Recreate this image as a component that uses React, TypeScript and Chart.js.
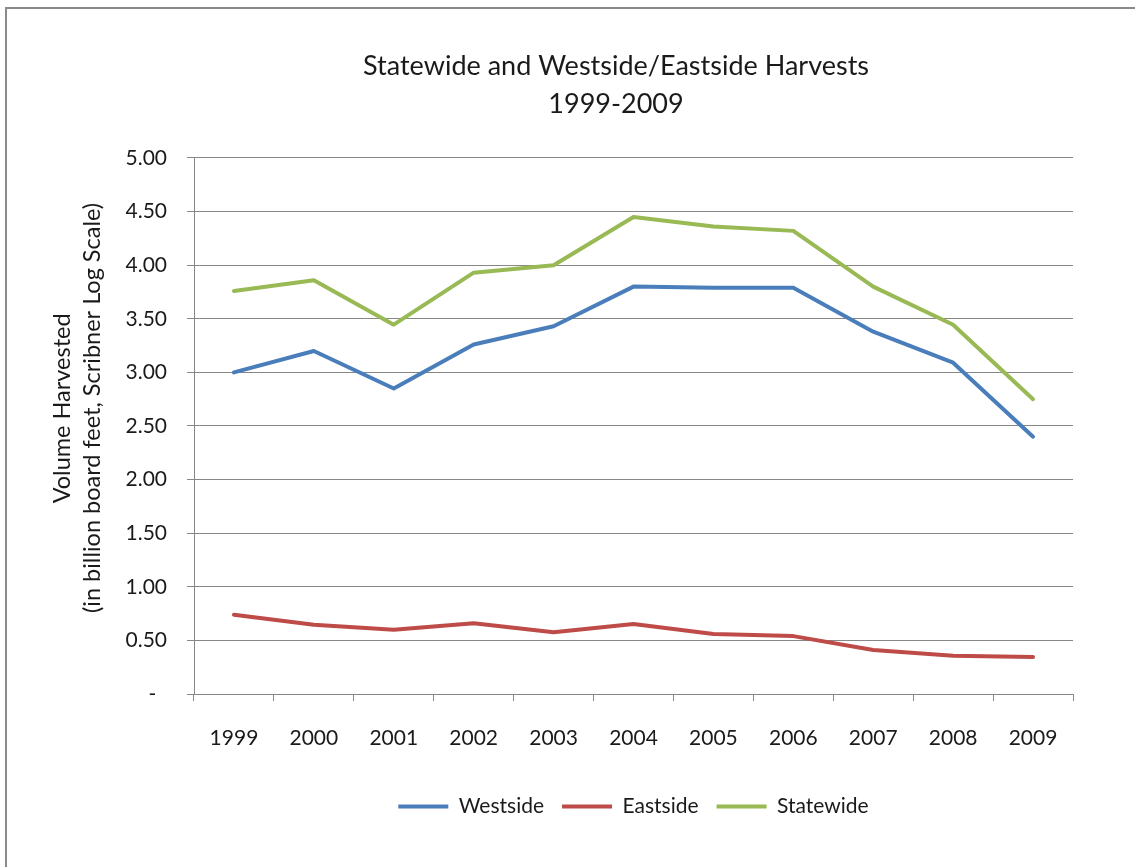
import { useEffect, useRef } from "react";
import { Chart, registerables } from "chart.js";

Chart.register(...registerables);

// Harvest volumes, billion board feet (Scribner log scale)
const years = ["1999", "2000", "2001", "2002", "2003", "2004", "2005", "2006", "2007", "2008", "2009"];
const westside = [3.0, 3.2, 2.85, 3.26, 3.43, 3.8, 3.79, 3.79, 3.38, 3.09, 2.4];
const eastside = [0.74, 0.645, 0.6, 0.66, 0.576, 0.652, 0.56, 0.54, 0.41, 0.357, 0.345];
const statewide = [3.76, 3.86, 3.445, 3.93, 4.0, 4.45, 4.36, 4.32, 3.8, 3.445, 2.75];

const titleLines = ["Statewide and Westside/Eastside Harvests", "1999-2009"];
const yTitleLines = ["Volume Harvested", "(in billion board feet, Scribner Log Scale)"];
const yTicks = { min: 0, max: 5, step: 0.5 };

const FONT = "Lato, 'Open Sans', sans-serif";
const GRID = "#878787";
const TEXT = "#1a1a1a";

// The title is centred over the whole chart box, the legend under the plot,
// and the y-axis title sits a little above the middle of the axis.
const blockPlacement = {
  id: "blockPlacement",
  afterLayout(chart: any) {
    const move = (box: any, center: number) => {
      if (!box) return;
      const dx = center - (box.left + box.right) / 2;
      box.left += dx;
      box.right += dx;
    };
    move(chart.titleBlock, chart.width / 2);
    move(chart.legend, (chart.chartArea.left + chart.chartArea.right) / 2);
  },
};

const lift = "\u00A0".repeat(6);

export default function App() {
  const canvasRef = useRef<HTMLCanvasElement | null>(null);

  useEffect(() => {
    const canvas = canvasRef.current;
    if (!canvas) return;
    const chart = new Chart(canvas, {
      type: "line",
      data: {
        labels: years,
        datasets: [
          { label: "Westside", data: westside, borderColor: "#4A7EBB", backgroundColor: "#4A7EBB" },
          { label: "Eastside", data: eastside, borderColor: "#BE4B48", backgroundColor: "#BE4B48" },
          { label: "Statewide", data: statewide, borderColor: "#98B954", backgroundColor: "#98B954" },
        ].map((d) => ({
          ...d,
          borderWidth: 4,
          pointRadius: 0,
          pointHoverRadius: 0,
          tension: 0,
          borderCapStyle: "round" as const,
          borderJoinStyle: "round" as const,
          fill: false,
        })),
      },
      options: {
        responsive: false,
        devicePixelRatio: 1,
        animation: false,
        events: [],
        layout: { padding: { top: 0, left: 0, right: 151, bottom: 52 } },
        plugins: {
          tooltip: { enabled: false },
          title: {
            display: true,
            text: titleLines,
            color: TEXT,
            font: { family: FONT, size: 27, weight: "normal", lineHeight: 1.407 },
            padding: { top: 38, bottom: 35 },
          },
          legend: {
            display: true,
            position: "bottom",
            labels: {
              usePointStyle: true,
              pointStyle: "line",
              pointStyleWidth: 50,
              color: TEXT,
              padding: 18,
              font: { family: FONT, size: 21 },
            },
          },
        },
        scales: {
          x: {
            type: "category",
            offset: true,
            grid: {
              display: true,
              drawOnChartArea: false,
              drawTicks: true,
              tickLength: 7,
              offset: true,
              color: GRID,
            },
            border: { display: true, color: GRID, width: 1 },
            ticks: {
              color: TEXT,
              padding: 25,
              maxRotation: 0,
              autoSkip: false,
              font: { family: FONT, size: 21 },
            },
            afterFit(scale: any) {
              scale.height = 84;
            },
          },
          y: {
            type: "linear",
            min: yTicks.min,
            max: yTicks.max,
            grid: { color: GRID, lineWidth: 1, tickLength: 7, drawTicks: true },
            border: { display: true, color: GRID, width: 1 },
            ticks: {
              stepSize: yTicks.step,
              color: TEXT,
              padding: 20,
              font: { family: FONT, size: 21 },
              callback: (v: any) => (Number(v) === 0 ? "-  " : Number(v).toFixed(2)),
            },
            title: {
              display: true,
              text: yTitleLines.map((t) => lift + t),
              color: TEXT,
              font: { family: FONT, size: 23.5, lineHeight: 1.277 },
              padding: { top: 39, bottom: 0 },
            },
            afterFit(scale: any) {
              scale.width = 186;
            },
          },
        },
      },
      plugins: [blockPlacement],
    });
    return () => chart.destroy();
  }, []);

  return (
    <div
      style={{
        position: "fixed",
        left: 0,
        top: 0,
        width: 1135,
        height: 867,
        overflow: "hidden",
        background: "#fff",
      }}
    >
      <div
        style={{
          position: "absolute",
          left: 5,
          top: 7,
          width: 1240,
          height: 900,
          border: "2px solid #8a8a8a",
          boxSizing: "border-box",
        }}
      />
      <canvas
        ref={canvasRef}
        width={1216}
        height={870}
        style={{ position: "absolute", left: 8, top: 9, width: 1216, height: 870 }}
      />
    </div>
  );
}
